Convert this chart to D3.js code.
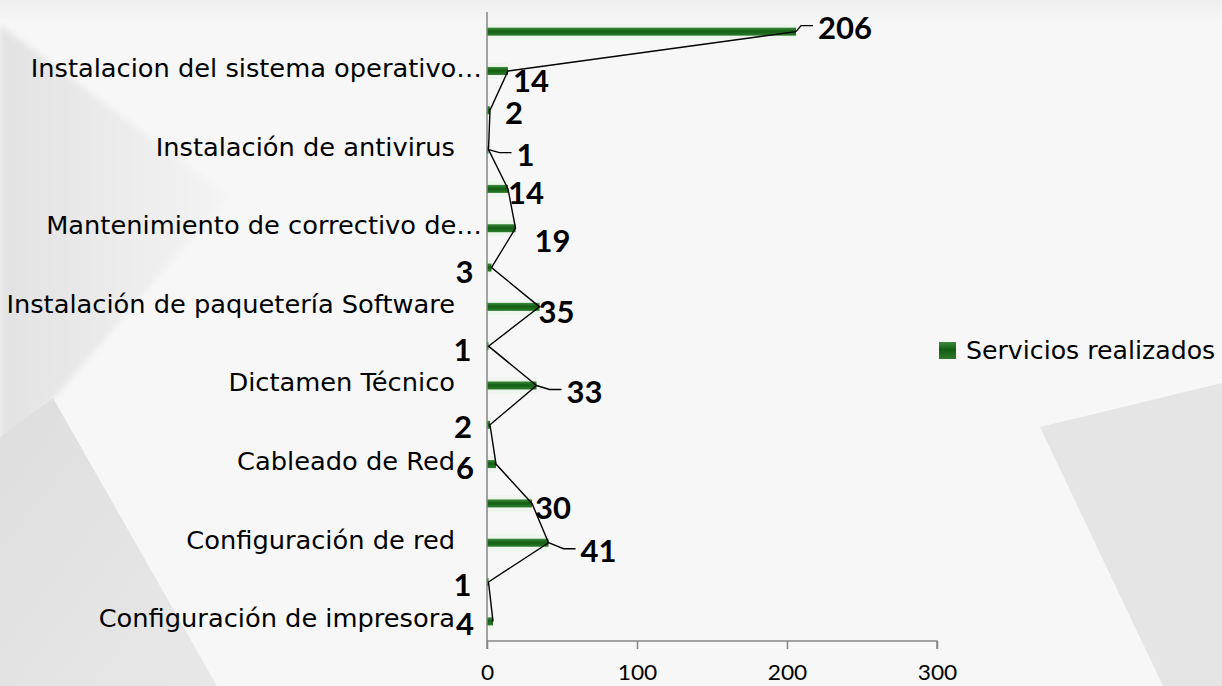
<!DOCTYPE html>
<html><head><meta charset="utf-8">
<script src="https://cdn.jsdelivr.net/npm/d3@7"></script>
<style>html,body{margin:0;padding:0;background:#f7f7f7;}svg{display:block;}</style>
</head><body><svg id="c" width="1222" height="686"></svg>
<script>
// ---- data ----
const categories = ["", "Instalacion del sistema operativo…", "", "Instalación de antivirus", "", "Mantenimiento de correctivo de…", "", "Instalación de paquetería Software", "", "Dictamen Técnico", "", "Cableado de Red", "", "Configuración de red", "", "Configuración de impresora"];
const values = [206, 14, 2, 1, 14, 19, 3, 35, 1, 33, 2, 6, 30, 41, 1, 4];
const xTicks = [0, 100, 200, 300];
const seriesName = "Servicios realizados";
// label offsets (px) relative to bar end, as placed in the original
const labelDx = [49, 23, 24, 37, 18, 37, -27, 17, -26, 48, -27, -31, 21, 50, -26, -28];
const labelDy = [-4, 10, 3, 5, 4, 13, 4, 5, 4, 6, 2, 4, 4, 8, 3, 2];
const leaderIdx = [0, 3, 9, 13];

const svg = d3.select("#c");
const W = 1222, H = 686;
const STRETCH = 1.07;

// ---- background ----
const defs = svg.append("defs");
const g1 = defs.append("linearGradient").attr("id","bgL").attr("x1","0").attr("x2","1").attr("y1","0").attr("y2","0");
g1.append("stop").attr("offset","0").attr("stop-color","#e2e2e2");
g1.append("stop").attr("offset","1").attr("stop-color","#f4f4f4");
const g2 = defs.append("linearGradient").attr("id","bgB").attr("x1","0").attr("x2","1").attr("y1","0").attr("y2","1");
g2.append("stop").attr("offset","0").attr("stop-color","#dedede");
g2.append("stop").attr("offset","1").attr("stop-color","#e8e8e8");
const g3 = defs.append("linearGradient").attr("id","bgT").attr("x1","0").attr("x2","0").attr("y1","0").attr("y2","1");
g3.append("stop").attr("offset","0").attr("stop-color","#eeeeee");
g3.append("stop").attr("offset","1").attr("stop-color","#f7f7f7");
const bar = defs.append("linearGradient").attr("id","barG").attr("x1","0").attr("x2","0").attr("y1","0").attr("y2","1");
bar.append("stop").attr("offset","0").attr("stop-color","#3d8a3d");
bar.append("stop").attr("offset","0.45").attr("stop-color","#135e13");
bar.append("stop").attr("offset","1").attr("stop-color","#2c7c2c");
const blur = defs.append("filter").attr("id","soft").attr("x","-20%").attr("y","-20%").attr("width","140%").attr("height","140%");
blur.append("feGaussianBlur").attr("stdDeviation","3");

svg.append("rect").attr("width",W).attr("height",H).attr("fill","#f7f7f7");
svg.append("rect").attr("width",W).attr("height",22).attr("fill","url(#bgT)");
svg.append("polygon").attr("points","0,25 228,196 35,420 0,440").attr("fill","url(#bgL)").attr("filter","url(#soft)");
svg.append("polygon").attr("points","0,437 53,398 217,686 0,686").attr("fill","url(#bgB)");
svg.append("polygon").attr("points","1040,427 1222,383 1222,686 1163,686").attr("fill","#e5e5e5");

// ---- scales ----
const x = d3.scaleLinear().domain([0, 300]).range([487, 937]);
const y = d3.scaleBand().domain(d3.range(values.length)).range([12, 641]).padding(0);
const yc = i => y(i) + y.bandwidth() / 2;

function stretch(sel, k) {
  sel.each(function() {
    const w = this.getComputedTextLength();
    this.setAttribute("textLength", (w * k).toFixed(1));
    this.setAttribute("lengthAdjust", "spacingAndGlyphs");
  });
}

// ---- bars ----
const gb = svg.append("g");
gb.selectAll("rect.glow").data(values).join("rect")
  .attr("x", x(0)).attr("y", (d,i) => yc(i) - 8).attr("width", d => x(d) - x(0)).attr("height", 16)
  .attr("fill", "#d9f2d9").attr("opacity", 0.35);
gb.selectAll("rect.bar").data(values).join("rect")
  .attr("x", x(0)).attr("y", (d,i) => yc(i) - 4).attr("width", d => x(d) - x(0)).attr("height", 8)
  .attr("fill", "url(#barG)");

// ---- axes ----
const axisColor = "#868686";
const xa = svg.append("g").attr("transform", "translate(0,641)")
  .call(d3.axisBottom(x).tickValues(xTicks).tickSize(8).tickPadding(16).tickFormat(d3.format("d")));
xa.attr("font-size", null).attr("font-family", null);
xa.select(".domain").attr("stroke", axisColor).attr("stroke-width", 1.5).attr("d", `M${x(0)},8V0H${x(300)}V8`);
xa.selectAll(".tick line").attr("stroke", axisColor).attr("stroke-width", 1.5);
xa.selectAll(".tick text").attr("fill", "#000").style("font-family", "Lato, 'Open Sans', sans-serif").style("font-size", "21px");
stretch(xa.selectAll(".tick text"), 1.08);

svg.append("line").attr("x1", x(0)).attr("x2", x(0)).attr("y1", 12).attr("y2", 641)
  .attr("stroke", axisColor).attr("stroke-width", 1.5);

// category labels (every other one shown)
const cl = svg.append("g").selectAll("text").data(categories.map((c,i)=>({c,i})).filter(d => d.c !== "")).join("text")
  .attr("x", d => d.c.endsWith("…") ? 482 : 455)
  .attr("y", d => yc(d.i)).attr("dy", "0.25em")
  .attr("text-anchor", "end")
  .style("font-family", "'DejaVu Sans', Verdana, sans-serif").style("font-size", "24px").attr("fill", "#000")
  .text(d => d.c);
stretch(cl, STRETCH);

// ---- connecting leader polyline ----
const line = d3.line().x(d => x(d.v)).y(d => yc(d.i));
svg.append("path").datum(values.map((v,i)=>({v,i})))
  .attr("d", line).attr("fill", "none").attr("stroke", "#000").attr("stroke-width", 1.4);

// ---- data labels ----
const dl = svg.append("g").selectAll("text").data(values).join("text")
  .attr("x", (d,i) => x(d) + labelDx[i]).attr("y", (d,i) => yc(i) + labelDy[i])
  .attr("dy", "0.36em").attr("text-anchor", "middle")
  .style("font-family", "Lato, 'Open Sans', sans-serif").style("font-weight", "700").style("font-size", "31px")
  .attr("fill", "#000").text(d => d);

// short leader ticks to the offset labels
svg.append("g").selectAll("path").data(leaderIdx).join("path")
  .attr("d", i => {
    const px = x(values[i]), py = yc(i);
    const bb = dl.nodes()[i].getBBox();
    const lx = bb.x - 5, ly = yc(i) + labelDy[i] - 2;
    return `M${px},${py}L${lx - 12},${ly}H${lx}`;
  })
  .attr("fill", "none").attr("stroke", "#000").attr("stroke-width", 1.4);

// ---- legend ----
const lg = svg.append("g");
lg.append("rect").attr("x", 939).attr("y", 342).attr("width", 17).attr("height", 17).attr("fill", "url(#barG)");
const lt = lg.append("text").attr("x", 966).attr("y", 350).attr("dy", "0.36em")
  .style("font-family", "'DejaVu Sans', Verdana, sans-serif").style("font-size", "24px").attr("fill", "#000")
  .text(seriesName);
stretch(lt, 1.05);
</script></body></html>
